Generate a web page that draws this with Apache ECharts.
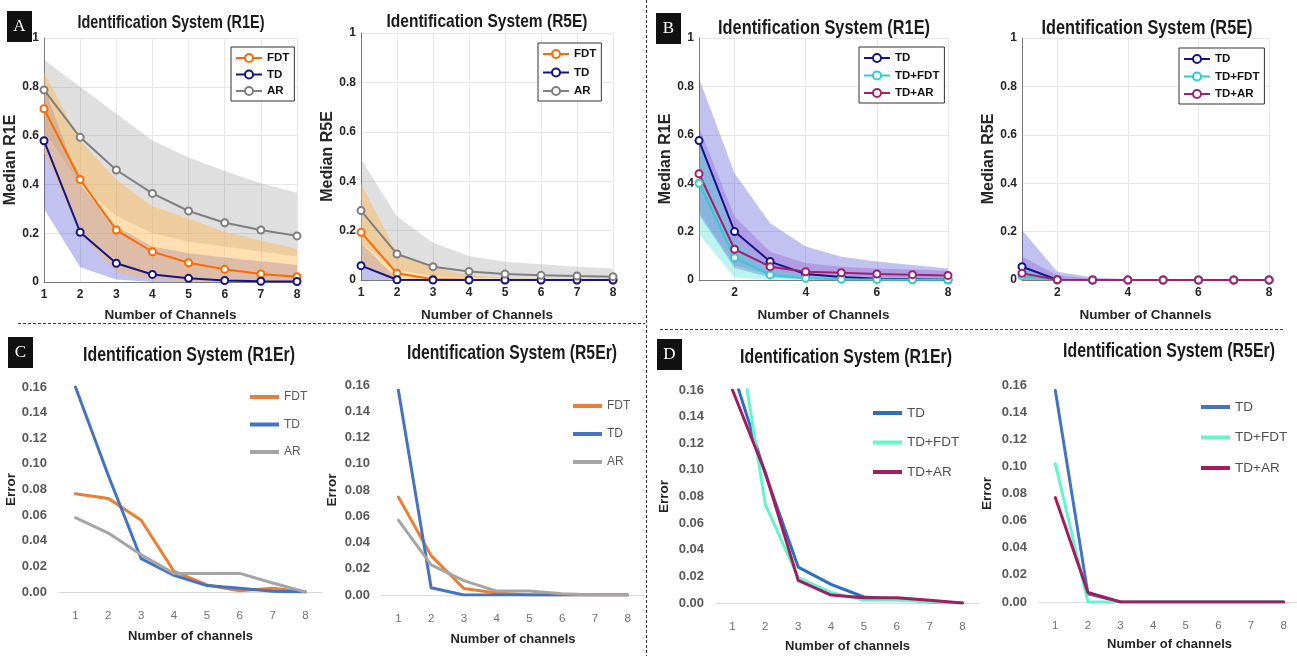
<!DOCTYPE html>
<html>
<head>
<meta charset="utf-8">
<title>Identification System</title>
<script src="https://cdn.jsdelivr.net/npm/echarts@6/dist/echarts.min.js"></script>
<style>
  html, body { margin: 0; padding: 0; background: #fff; }
  #chart { width: 1297px; height: 656px; }
</style>
</head>
<body>
<div id="chart"></div>
<script>
// 通道数 / 刻度
const channels = [1, 2, 3, 4, 5, 6, 7, 8];
const channelLabels = ['1', '2', '3', '4', '5', '6', '7', '8'];
const evenTicks = [2, 4, 6, 8];

// A: R1E 中位数与区间
const aR1eFDT = [0.71, 0.42, 0.213, 0.124, 0.079, 0.052, 0.033, 0.022];
const aR1eTD = [0.579, 0.204, 0.077, 0.031, 0.015, 0.006, 0.003, 0.002];
const aR1eAR = [0.787, 0.593, 0.459, 0.363, 0.291, 0.243, 0.213, 0.189];
const aR1eARHi = [0.91, 0.80, 0.69, 0.58, 0.51, 0.455, 0.405, 0.366];
const aR1eARLo = [0.62, 0.40, 0.27, 0.20, 0.165, 0.145, 0.125, 0.105];
const aR1eFDTHi = [0.86, 0.58, 0.42, 0.31, 0.26, 0.205, 0.17, 0.135];
const aR1eFDTLo = [0.53, 0.20, 0.04, 0.01, 0.003, 0.002, 0.001, 0.001];
const aR1eTDHi = [0.80, 0.40, 0.227, 0.145, 0.118, 0.10, 0.085, 0.07];
const aR1eTDLo = [0.30, 0.06, 0.01, 0, 0, 0, 0, 0];

// A: R5E
const aR5eFDT = [0.193, 0.027, 0.003, 0.001, 0, 0, 0, 0];
const aR5eTD = [0.058, 0.001, 0, 0, 0, 0, 0, 0];
const aR5eAR = [0.281, 0.105, 0.054, 0.034, 0.024, 0.019, 0.016, 0.0135];
const aR5eARHi = [0.49, 0.257, 0.151, 0.097, 0.074, 0.064, 0.054, 0.047];
const aR5eARLo = [0.15, 0.04, 0.015, 0.008, 0.006, 0.005, 0.004, 0.004];
const aR5eFDTHi = [0.39, 0.11, 0.05, 0.02, 0.01, 0.006, 0.004, 0.003];
const aR5eFDTLo = [0.06, 0, 0, 0, 0, 0, 0, 0];
const aR5eTDHi = [0.15, 0.005, 0.001, 0, 0, 0, 0, 0];
const aR5eTDLo = [0, 0, 0, 0, 0, 0, 0, 0];

// B: R1E
const bR1eTD = [0.576, 0.2, 0.076, 0.025, 0.012, 0.005, 0.003, 0.001];
const bR1eTDFDT = [0.40, 0.092, 0.021, 0.007, 0.003, 0.002, 0.001, 0.001];
const bR1eTDAR = [0.439, 0.127, 0.055, 0.034, 0.03, 0.025, 0.022, 0.019];
const bR1eTDHi = [0.834, 0.441, 0.235, 0.138, 0.096, 0.076, 0.062, 0.048];
const bR1eTDLo = [0.27, 0.05, 0.01, 0.003, 0, 0, 0, 0];
const bR1eTDARHi = [0.63, 0.262, 0.117, 0.07, 0.055, 0.048, 0.043, 0.038];
const bR1eTDARLo = [0.28, 0.06, 0.02, 0.012, 0.01, 0.008, 0.006, 0.005];
const bR1eTDFDTHi = [0.60, 0.17, 0.05, 0.02, 0.01, 0.005, 0.004, 0.003];
const bR1eTDFDTLo = [0.19, 0.01, 0, 0, 0, 0, 0, 0];

// B: R5E
const bR5eTD = [0.055, 0.001, 0, 0, 0, 0, 0, 0];
const bR5eTDFDT = [0.017, 0, 0, 0, 0, 0, 0, 0];
const bR5eTDAR = [0.028, 0.001, 0, 0, 0, 0, 0, 0];
const bR5eTDHi = [0.207, 0.034, 0.011, 0.003, 0.001, 0, 0, 0];
const bR5eTDARHi = [0.097, 0.02, 0.005, 0.001, 0, 0, 0, 0];
const bR5eTDFDTHi = [0.06, 0.005, 0, 0, 0, 0, 0, 0];
const bR5eLo = [0, 0, 0, 0, 0, 0, 0, 0];

// C: 误差
const cR1erFDT = [0.0766, 0.073, 0.056, 0.016, 0.0055, 0.001, 0.003, 0];
const cR1erTD = [0.16, 0.091, 0.026, 0.013, 0.005, 0.003, 0.0005, 0];
const cR1erAR = [0.058, 0.046, 0.029, 0.0145, 0.0145, 0.0145, 0.007, 0];
const cR5erFDT = [0.0746, 0.030, 0.005, 0.0015, 0, 0, 0, 0];
const cR5erTD = [0.156, 0.0055, 0, 0, 0, 0, 0, 0];
const cR5erAR = [0.057, 0.023, 0.011, 0.003, 0.003, 0.001, 0, 0];

// D: 误差
const dR1erTD = [0.175, 0.097, 0.027, 0.014, 0.0045, 0.003, 0.001, 0];
const dR1erTDFDT = [0.23, 0.074, 0.019, 0.008, 0.002, 0.002, 0.001, 0];
const dR1erTDAR = [0.16, 0.098, 0.017, 0.006, 0.004, 0.004, 0.002, 0];
const dR5erTD = [0.156, 0.006, 0, 0, 0, 0, 0, 0];
const dR5erTDFDT = [0.102, 0, 0, 0, 0, 0, 0, 0];
const dR5erTDAR = [0.077, 0.007, 0, 0, 0, 0, 0, 0];

const FONT = '"Liberation Sans", Arial, sans-serif';

const grids = [];
const xAxes = [];
const yAxes = [];
const series = [];
const legends = [];
const graphics = [];

const xy = vals => vals.map((v, i) => [channels[i], v]);
const legendName = n => n.split('|')[0];

// 文本宽度测量，用于压缩标题
const measureCtx = document.createElement('canvas').getContext('2d');
function textWidth(text, font) {
    measureCtx.font = font;
    return measureCtx.measureText(text).width;
}

// MATLAB 风格坐标系
function matlabPanel(box, yName, xGap, yGap, evenOnly) {
    let gi = grids.length;
    grids.push(Object.assign({ outerBoundsMode: 'none', containLabel: false }, box));
    xAxes.push({
        gridIndex: gi, type: 'value', min: 1, max: 8, interval: 1,
        name: 'Number of Channels', nameLocation: 'middle', nameGap: xGap,
        nameTextStyle: { fontFamily: FONT, fontWeight: 'bold', fontSize: 13.5, color: '#262626' },
        axisLine: { show: true, onZero: false, lineStyle: { color: '#7a7a7a' } },
        axisTick: evenOnly ? { show: false, customValues: evenTicks } : { show: false },
        axisLabel: Object.assign({ color: '#262626', fontWeight: 'bold', fontSize: 12, fontFamily: FONT, margin: 7 },
            evenOnly ? { customValues: evenTicks } : {}),
        splitLine: { show: true, lineStyle: { color: '#e6e6e6' } }
    });
    yAxes.push({
        gridIndex: gi, type: 'value', min: 0, max: 1, interval: 0.2,
        name: yName, nameLocation: 'middle', nameGap: yGap,
        nameTextStyle: { fontFamily: FONT, fontWeight: 'bold', fontSize: 16, color: '#262626' },
        axisLine: { show: true, onZero: false, lineStyle: { color: '#7a7a7a' } },
        axisTick: { show: false },
        axisLabel: { color: '#262626', fontWeight: 'bold', fontSize: 12, fontFamily: FONT, margin: 5 },
        splitLine: { show: true, lineStyle: { color: '#e6e6e6' } }
    });
    return gi;
}

// Excel 风格坐标系
function excelPanel(box, xGap, yGap) {
    let gi = grids.length;
    grids.push(Object.assign({ outerBoundsMode: 'none', containLabel: false }, box));
    xAxes.push({
        gridIndex: gi, type: 'category', data: channelLabels, boundaryGap: true,
        name: 'Number of channels', nameLocation: 'middle', nameGap: xGap,
        nameTextStyle: { fontFamily: FONT, fontWeight: 'bold', fontSize: 13, color: '#262626' },
        axisLine: { show: true, lineStyle: { color: '#d9d9d9', width: 1 } },
        axisTick: { show: false },
        axisLabel: { color: '#6f6f6f', fontSize: 11.5, fontFamily: FONT, margin: 18 },
        splitLine: { show: false }
    });
    yAxes.push({
        gridIndex: gi, type: 'value', min: 0, max: 0.16, interval: 0.02,
        name: 'Error', nameLocation: 'middle', nameGap: yGap,
        nameTextStyle: { fontFamily: FONT, fontWeight: 'bold', fontSize: 13.5, color: '#262626' },
        axisLine: { show: false },
        axisTick: { show: false },
        axisLabel: { color: '#595959', fontWeight: 'bold', fontSize: 13, fontFamily: FONT, margin: 12,
            formatter: v => v.toFixed(2) },
        splitLine: { show: false }
    });
    return gi;
}

// 区间带：多边形，点位由坐标轴换算
function band(gi, hi, lo, color) {
    series.push({
        type: 'custom', xAxisIndex: gi, yAxisIndex: gi, silent: true, z: 1, clip: true,
        data: channels.map((c, i) => [c, lo[i], hi[i]]),
        encode: { x: 0, y: [1, 2] },
        renderItem: (params, api) => {
            if (params.dataIndex !== 0) return;
            let top = hi.map((v, i) => api.coord([channels[i], v]));
            let bottom = lo.map((v, i) => api.coord([channels[i], v])).reverse();
            return { type: 'polygon', shape: { points: top.concat(bottom) }, style: { fill: color } };
        }
    });
}

function mline(gi, name, vals, color) {
    series.push({
        type: 'line', name: name, xAxisIndex: gi, yAxisIndex: gi, data: xy(vals),
        symbol: 'emptyCircle', symbolSize: 7, silent: true, z: 4,
        lineStyle: { width: 2, color: color },
        itemStyle: { color: color, borderColor: color, borderWidth: 1.6 }
    });
}

function xline(gi, name, vals, color) {
    series.push({
        type: 'line', name: name, xAxisIndex: gi, yAxisIndex: gi, data: vals,
        symbol: 'none', silent: true, z: 3, clip: true,
        lineStyle: { width: 3, color: color, cap: 'round', join: 'round' },
        itemStyle: { color: color }
    });
}

function matlabLegend(names, left, top, gap) {
    legends.push({
        data: names, left: left, top: top, orient: 'vertical', selectedMode: false, z: 10,
        formatter: legendName, backgroundColor: '#fff', borderColor: '#333', borderWidth: 1,
        padding: [4, 5, 3, 4], itemGap: gap, itemWidth: 26, itemHeight: 10,
        textStyle: { fontFamily: FONT, fontWeight: 'bold', fontSize: 11.5, color: '#111', lineHeight: 14 }
    });
}

function excelLegend(names, left, top, gap, fontSize, color, lh) {
    legends.push({
        data: names, left: left, top: top, orient: 'vertical', selectedMode: false, z: 10,
        formatter: legendName, icon: 'rect', padding: 0, itemGap: gap, itemWidth: 29, itemHeight: 4,
        textStyle: { fontFamily: FONT, fontSize: fontSize, color: color, lineHeight: lh }
    });
}

// 颜色
const cOrange = '#ff6a00', cNavy = '#14148a', cGray = '#7f7f7f';
const cTeal = '#33cccc', cPlum = '#a3206e';
const bandGray = 'rgba(128,128,128,0.25)', bandYellow = 'rgba(255,185,80,0.45)', bandBlue = 'rgba(75,75,215,0.34)';
const bandPlum = 'rgba(130,60,200,0.28)', bandTeal = 'rgba(64,224,208,0.35)';

// A 左
let g = matlabPanel({ left: 44, top: 38, width: 253, height: 244 }, 'Median R1E', 26, 21, false);
band(g, aR1eTDHi, aR1eTDLo, bandBlue);
band(g, aR1eARHi, aR1eARLo, bandGray);
band(g, aR1eFDTHi, aR1eFDTLo, bandYellow);
mline(g, 'FDT|a1', aR1eFDT, cOrange);
mline(g, 'TD|a1', aR1eTD, cNavy);
mline(g, 'AR|a1', aR1eAR, cGray);
matlabLegend(['FDT|a1', 'TD|a1', 'AR|a1'], 231, 47, 2.5);

// A 右
g = matlabPanel({ left: 361, top: 33, width: 252, height: 247 }, 'Median R5E', 28, 21, false);
band(g, aR5eTDHi, aR5eTDLo, bandBlue);
band(g, aR5eARHi, aR5eARLo, bandGray);
band(g, aR5eFDTHi, aR5eFDTLo, bandYellow);
mline(g, 'FDT|a5', aR5eFDT, cOrange);
mline(g, 'TD|a5', aR5eTD, cNavy);
mline(g, 'AR|a5', aR5eAR, cGray);
matlabLegend(['FDT|a5', 'TD|a5', 'AR|a5'], 538, 43, 4.5);

// B 左
g = matlabPanel({ left: 699, top: 38, width: 249, height: 242 }, 'Median R1E', 28, 23, true);
band(g, bR1eTDHi, bR1eTDLo, bandBlue);
band(g, bR1eTDARHi, bR1eTDARLo, bandPlum);
band(g, bR1eTDFDTHi, bR1eTDFDTLo, bandTeal);
mline(g, 'TD|b1', bR1eTD, cNavy);
mline(g, 'TD+FDT|b1', bR1eTDFDT, cTeal);
mline(g, 'TD+AR|b1', bR1eTDAR, cPlum);
matlabLegend(['TD|b1', 'TD+FDT|b1', 'TD+AR|b1'], 859, 47, 3.5);

// B 右
g = matlabPanel({ left: 1022, top: 38, width: 247, height: 242 }, 'Median R5E', 28, 24, true);
band(g, bR5eTDHi, bR5eLo, bandBlue);
band(g, bR5eTDARHi, bR5eLo, bandPlum);
band(g, bR5eTDFDTHi, bR5eLo, bandTeal);
mline(g, 'TD|b5', bR5eTD, cNavy);
mline(g, 'TD+FDT|b5', bR5eTDFDT, cTeal);
mline(g, 'TD+AR|b5', bR5eTDAR, cPlum);
matlabLegend(['TD|b5', 'TD+FDT|b5', 'TD+AR|b5'], 1179, 48, 3.5);

// C 左
g = excelPanel({ left: 59, top: 387, width: 263, height: 205 }, 38, 40.5);
xline(g, 'FDT|c1', cR1erFDT, '#ed7d31');
xline(g, 'TD|c1', cR1erTD, '#4472c4');
xline(g, 'AR|c1', cR1erAR, '#a5a5a5');
excelLegend(['FDT|c1', 'TD|c1', 'AR|c1'], 250, 389, 11.5, 12, '#595959', 16);

// C 右
g = excelPanel({ left: 382, top: 385, width: 262, height: 210 }, 38, 42.5);
xline(g, 'FDT|c5', cR5erFDT, '#ed7d31');
xline(g, 'TD|c5', cR5erTD, '#4472c4');
xline(g, 'AR|c5', cR5erAR, '#a5a5a5');
excelLegend(['FDT|c5', 'TD|c5', 'AR|c5'], 573, 398, 12, 12, '#595959', 16);

// D 左
g = excelPanel({ left: 716, top: 390, width: 263, height: 213 }, 37, 44.5);
xline(g, 'TD|d1', dR1erTD, '#2a6fc4');
xline(g, 'TD+FDT|d1', dR1erTDFDT, '#62f7c8');
xline(g, 'TD+AR|d1', dR1erTDAR, '#a31c60');
excelLegend(['TD|d1', 'TD+FDT|d1', 'TD+AR|d1'], 873, 404, 11.5, 13.5, '#505050', 18);

// D 右
g = excelPanel({ left: 1039, top: 385, width: 261, height: 217 }, 36, 44.5);
xline(g, 'TD|d5', dR5erTD, '#4472c4');
xline(g, 'TD+FDT|d5', dR5erTDFDT, '#62f7c8');
xline(g, 'TD+AR|d5', dR5erTDAR, '#a31c60');
excelLegend(['TD|d5', 'TD+FDT|d5', 'TD+AR|d5'], 1201, 398, 12.5, 13.5, '#505050', 18);

// 标题（横向压缩到原图宽度）
function title(text, x, y, size, width) {
    let font = 'bold ' + size + 'px ' + FONT;
    graphics.push({
        type: 'text', x: x, y: y, silent: true, scaleX: width / textWidth(text, font),
        style: { text: text, font: font, fill: '#1a1a1a',
            align: 'center', verticalAlign: 'middle', textAlign: 'center', textVerticalAlign: 'middle' }
    });
}
title('Identification System (R1E)', 171, 23, 18.5, 187);
title('Identification System (R5E)', 487, 22, 19, 201);
title('Identification System (R1E)', 824, 28, 20, 212);
title('Identification System (R5E)', 1147, 28, 20, 211);
title('Identification System (R1Er)', 189, 355, 21, 212);
title('Identification System (R5Er)', 512, 353, 21, 210);
title('Identification System (R1Er)', 846, 357, 21, 212);
title('Identification System (R5Er)', 1169, 351, 21, 212);

// 面板字母
function tag(letter, x, y) {
    graphics.push({ type: 'rect', shape: { x: x, y: y, width: 25, height: 31 }, style: { fill: '#111' }, silent: true });
    graphics.push({
        type: 'text', x: x + 12.5, y: y + 16, silent: true,
        style: { text: letter, font: '17px "Liberation Serif", serif', fill: '#fff',
            align: 'center', verticalAlign: 'middle', textAlign: 'center', textVerticalAlign: 'middle' }
    });
}
tag('A', 7, 11);
tag('B', 656, 13);
tag('C', 8, 337);
tag('D', 657, 339);

// 分隔虚线
const dash = { stroke: '#3a3a3a', lineWidth: 1, lineDash: [3, 2] };
graphics.push({ type: 'line', silent: true, shape: { x1: 646.5, y1: 0, x2: 646.5, y2: 656 }, style: dash });
graphics.push({ type: 'line', silent: true, shape: { x1: 18, y1: 323.5, x2: 645, y2: 323.5 }, style: dash });
graphics.push({ type: 'line', silent: true, shape: { x1: 660, y1: 329.5, x2: 1283, y2: 329.5 }, style: dash });

const chart = echarts.init(document.getElementById('chart'), null, { renderer: 'canvas' });
chart.setOption({
    animation: false,
    backgroundColor: '#fff',
    grid: grids,
    xAxis: xAxes,
    yAxis: yAxes,
    legend: legends,
    series: series,
    graphic: graphics
});
</script>
</body>
</html>
